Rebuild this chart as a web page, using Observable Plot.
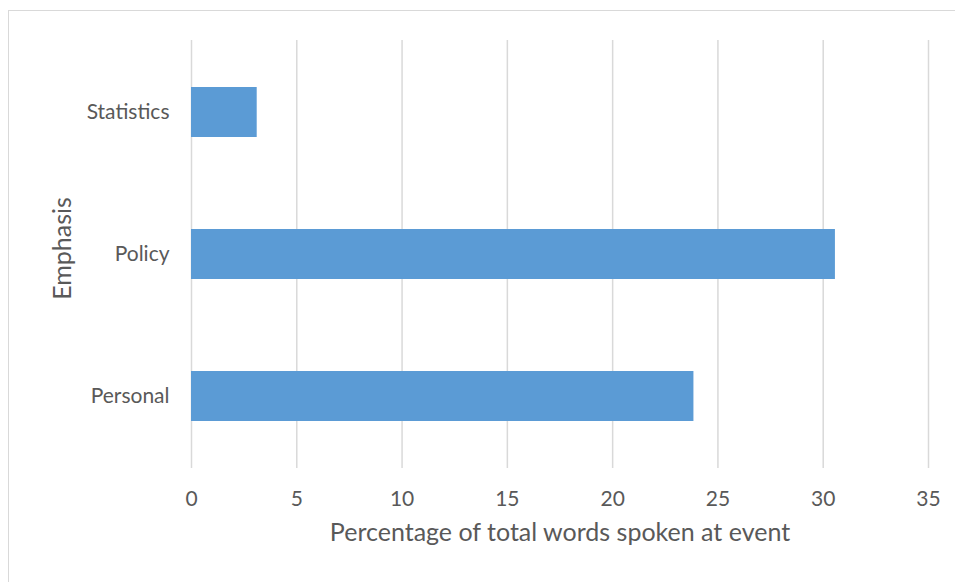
<!DOCTYPE html>
<html>
<head>
<meta charset="utf-8">
<script src="https://cdn.jsdelivr.net/npm/d3@7"></script>
<script src="https://cdn.jsdelivr.net/npm/@observablehq/plot@0.6"></script>
<style>
  html, body { margin: 0; padding: 0; background: #fff; }
  #wrap { position: relative; width: 955px; height: 582px; overflow: hidden; }
  #frame { position: absolute; left: 8px; top: 10px; width: 960px; height: 600px; border: 1.5px solid #d9d9d9; box-sizing: border-box; }
  #chart { position: absolute; left: 0; top: 0; }
</style>
</head>
<body>
<div id="wrap"><div id="frame"></div><div id="chart"></div></div>
<script>
const categories = ["Statistics", "Policy", "Personal"];
const values = [3.12, 30.58, 23.86];
const xTicks = [0, 5, 10, 15, 20, 25, 30, 35];
const xTitle = "Percentage of total words spoken at event";
const yTitle = "Emphasis";

const data = categories.map((c, i) => ({category: c, value: values[i]}));
const font = "Lato, 'Open Sans', sans-serif";

const chart = Plot.plot({
  width: 955,
  height: 582,
  marginLeft: 191,
  marginRight: 27,
  marginTop: 40,
  marginBottom: 114,
  style: {fontFamily: font, fontSize: "21px", color: "#595959", background: "transparent"},
  x: {domain: [0, 35], ticks: xTicks},
  y: {domain: categories, paddingInner: 0.65, paddingOuter: 0.325},
  marks: [
    Plot.gridX(xTicks, {stroke: "#d9d9d9", strokeOpacity: 1, strokeWidth: 1.5}),
    Plot.barX(data, {y: "category", x: "value", fill: "#5b9bd5", inset: 0}),
    Plot.axisX(xTicks, {tickSize: 0, tickPadding: 23, label: null, fontSize: 21}),
    Plot.axisY({tickSize: 0, tickPadding: 22, label: null, fontSize: 21}),
    Plot.text([xTitle], {frameAnchor: "bottom", dy: 72, fontSize: 25, fill: "#595959"}),
    Plot.text([yTitle], {frameAnchor: "left", textAnchor: "middle", dx: -129, dy: -6, rotate: -90, fontSize: 25, fill: "#595959"})
  ]
});
document.getElementById("chart").appendChild(chart);
</script>
</body>
</html>
